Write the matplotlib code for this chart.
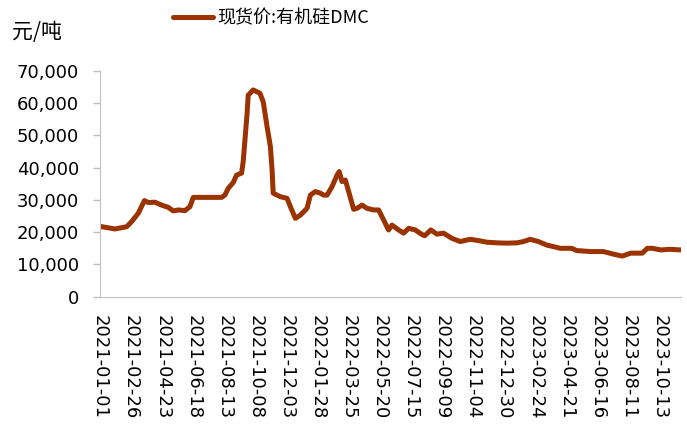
import matplotlib
matplotlib.use("Agg")
import matplotlib.pyplot as plt
import pandas as pd
import numpy as np

plt.rcParams['font.family'] = ['Noto Sans CJK SC', 'DejaVu Sans']

# Tick labels (category axis, one label every 56 observations)
tick_labels = ["2021-01-01", "2021-02-26", "2021-04-23", "2021-06-18", "2021-08-13",
               "2021-10-08", "2021-12-03", "2022-01-28", "2022-03-25", "2022-05-20",
               "2022-07-15", "2022-09-09", "2022-11-04", "2022-12-30", "2023-02-24",
               "2023-04-21", "2023-06-16", "2023-08-11", "2023-10-13"]

# Spot price of organosilicon DMC (yuan/ton)
dates = ["2021-01-01", "2021-01-28", "2021-02-18", "2021-02-27", "2021-03-11", "2021-03-22",
         "2021-03-29", "2021-04-10", "2021-04-22", "2021-05-04", "2021-05-13", "2021-05-22",
         "2021-06-03", "2021-06-12", "2021-06-18", "2021-07-03", "2021-08-08", "2021-08-14",
         "2021-08-20", "2021-08-29", "2021-09-04", "2021-09-13", "2021-09-16", "2021-09-23",
         "2021-09-25", "2021-10-04", "2021-10-16", "2021-10-22", "2021-10-29", "2021-11-04",
         "2021-11-07", "2021-11-09", "2021-11-22", "2021-12-04", "2021-12-10", "2021-12-19",
         "2021-12-28", "2022-01-09", "2022-01-15", "2022-01-24", "2022-02-02", "2022-02-08",
         "2022-02-14", "2022-02-23", "2022-03-04", "2022-03-08", "2022-03-13", "2022-03-19",
         "2022-03-25", "2022-04-03", "2022-04-09", "2022-04-18", "2022-04-27", "2022-05-09",
         "2022-05-18", "2022-05-27", "2022-06-05", "2022-06-11", "2022-06-23", "2022-07-02",
         "2022-07-11", "2022-07-23", "2022-08-04", "2022-08-09", "2022-08-20", "2022-08-31",
         "2022-09-12", "2022-09-27", "2022-10-12", "2022-10-30", "2022-11-14", "2022-11-29",
         "2022-12-17", "2023-01-04", "2023-01-22", "2023-02-03", "2023-02-15", "2023-03-02",
         "2023-03-17", "2023-04-04", "2023-04-10", "2023-05-01", "2023-05-10", "2023-06-04",
         "2023-06-27", "2023-07-15", "2023-07-31", "2023-08-15", "2023-09-05", "2023-09-14",
         "2023-09-23", "2023-10-16", "2023-10-31", "2023-11-21"]
prices = [21800, 21000, 21700, 23300, 25900, 29800,
          29200, 29300, 28400, 27700, 26600, 26900,
          26700, 27900, 30800, 30800, 30800, 31500,
          33600, 35400, 37700, 38300, 41900, 56900,
          62500, 64100, 63100, 60500, 52700, 46500,
          39300, 32100, 31000, 30500, 27900, 24300,
          25300, 27400, 31500, 32600, 32100, 31500,
          31500, 34100, 37700, 38800, 35700, 36200,
          32600, 27100, 27400, 28400, 27400, 26900,
          26900, 23800, 20700, 22200, 20700, 19700,
          21200, 20700, 19300, 18900, 20700, 19400,
          19700, 18100, 17100, 17800, 17400, 16900,
          16700, 16600, 16700, 17100, 17800, 17100,
          16000, 15300, 15000, 15000, 14300, 14000,
          14000, 13200, 12600, 13500, 13500, 15000,
          15000, 14500, 14700, 14500]

start = pd.Timestamp("2021-01-01")
gap_end = pd.Timestamp("2023-10-06")   # no observations during the holiday week


def to_pos(ds):
    d = pd.to_datetime(pd.Series(ds))
    pos = (d - start).dt.days.to_numpy().astype(float)
    pos[d.to_numpy() > gap_end.to_datetime64()] -= 7
    return pos


x = to_pos(dates)
tick_pos = to_pos(tick_labels)

fig = plt.figure(figsize=(6.87, 4.30), dpi=100)
ax = fig.add_axes([0.1456, 0.31, 0.845, 0.525])

ax.plot(x, prices, color="#9A3300", linewidth=3.6, solid_capstyle="round",
        solid_joinstyle="round", label="现货价:有机硅DMC")

ax.set_ylim(0, 70000)
ax.set_xlim(0, 1046)
ax.set_yticks(np.arange(0, 70001, 10000))
ax.set_yticklabels([f"{v:,}" for v in range(0, 70001, 10000)],
                   fontsize=13, family=['DejaVu Sans'])
ax.set_xticks(tick_pos)
ax.set_xticklabels(tick_labels, rotation=-90, fontsize=13, family=['DejaVu Sans'],
                   va="top", ha="center")

for s in ["top", "right"]:
    ax.spines[s].set_visible(False)
ax.spines["left"].set_color("#BFBFBF")
ax.spines["bottom"].set_color("#BFBFBF")
ax.tick_params(axis="y", colors="#BFBFBF", labelcolor="black", length=5, width=1, pad=10)
ax.tick_params(axis="x", colors="#BFBFBF", labelcolor="black", length=0, pad=13)

fig.text(0.017, 0.925, "元/吨", fontsize=15, ha="left", va="center")
leg = fig.legend(loc="center left", bbox_to_anchor=(0.228, 0.958), frameon=False,
                 fontsize=13, handlelength=2.2, handletextpad=0.25)

fig.savefig("out.png", dpi=100)
